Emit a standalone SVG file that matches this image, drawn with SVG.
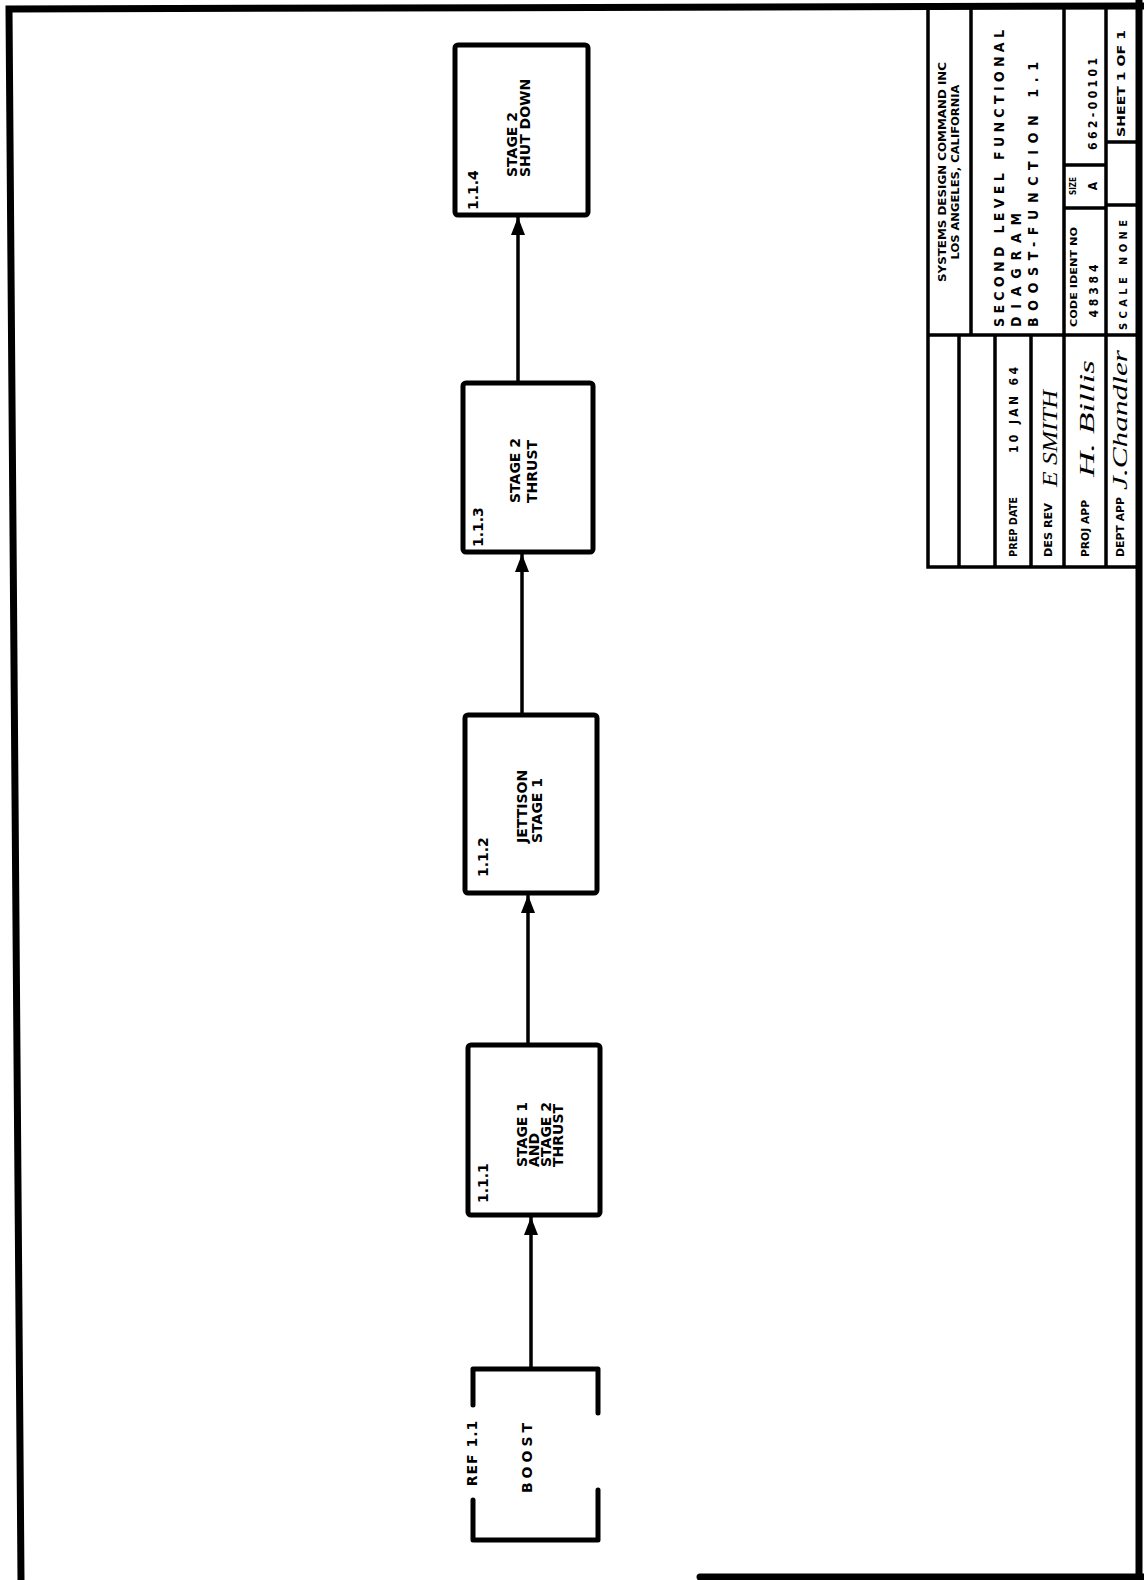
<svg xmlns="http://www.w3.org/2000/svg" width="1144" height="1580" viewBox="0 0 1144 1580">
<style>
.box{fill:#fff;stroke:#000;stroke-width:5;stroke-linejoin:round}
.brk{fill:none;stroke:#000;stroke-width:5;stroke-linecap:round;stroke-linejoin:round}
.con{fill:none;stroke:#000;stroke-width:3.5}
.frame{fill:none;stroke:#000;stroke-width:7;stroke-linecap:round}
.tb{fill:none;stroke:#000;stroke-width:3.5}
.t{font-family:"DejaVu Sans",sans-serif;font-weight:bold;font-size:14px;fill:#000}
.tn{font-family:"DejaVu Sans Condensed","DejaVu Sans",sans-serif;font-weight:bold;fill:#000}
.hw{font-family:"Liberation Serif",serif;font-style:italic;fill:#000}
</style>
<defs>
<marker id="ah" markerUnits="userSpaceOnUse" markerWidth="18" markerHeight="14" refX="18" refY="7" orient="auto">
<path d="M0,0 L18,7 L0,14 z" fill="#000"/>
</marker>
</defs>

<g id="frame">
<path class="frame" d="M21,1580 L9,9 L1144,6"/>
<path class="frame" d="M1139,0 V1580"/>
<path class="frame" d="M700,1577 H1144"/>
</g>

<g id="title-block">
<path class="tb" d="M928,6 V567 H1139"/>
<path class="tb" d="M971,6 V335"/>
<path class="tb" d="M928,335 H1139"/>
<path class="tb" d="M1064,6 V567"/>
<path class="tb" d="M1106,6 V567"/>
<path class="tb" d="M1064,165 H1106 M1064,208 H1106"/>
<path class="tb" d="M1106,142 H1139 M1106,205 H1139"/>
<path class="tb" d="M959,335 V567 M995,335 V567 M1031,335 V567"/>
<text class="tn" font-size="10" text-anchor="middle" transform="translate(946,172) rotate(-90)" textLength="220" lengthAdjust="spacingAndGlyphs">SYSTEMS DESIGN COMMAND INC</text>
<text class="tn" font-size="10" text-anchor="middle" transform="translate(959,172) rotate(-90)" textLength="175" lengthAdjust="spacingAndGlyphs">LOS ANGELES, CALIFORNIA</text>
<text class="tn" font-size="14" transform="translate(1004,327) rotate(-90)" textLength="297" lengthAdjust="spacing">SECOND LEVEL FUNCTIONAL</text>
<text class="tn" font-size="14" transform="translate(1021,327) rotate(-90)" textLength="114" lengthAdjust="spacing">DIAGRAM</text>
<text class="tn" font-size="14" transform="translate(1038,327) rotate(-90)" textLength="265" lengthAdjust="spacing">BOOST-FUNCTION 1.1</text>
<text class="tn" font-size="12" text-anchor="middle" transform="translate(1097,104) rotate(-90)" textLength="92" lengthAdjust="spacing">662-00101</text>
<text class="tn" font-size="8" text-anchor="middle" transform="translate(1076,186) rotate(-90)">SIZE</text>
<text class="tn" font-size="12" text-anchor="middle" transform="translate(1097,186) rotate(-90)">A</text>
<text class="tn" font-size="9" text-anchor="middle" transform="translate(1077,277) rotate(-90)" textLength="100" lengthAdjust="spacingAndGlyphs">CODE IDENT NO</text>
<text class="tn" font-size="12" text-anchor="middle" transform="translate(1098,291) rotate(-90)" textLength="53" lengthAdjust="spacing">48384</text>
<text class="tn" font-size="11" transform="translate(1125,137) rotate(-90)" textLength="107" lengthAdjust="spacingAndGlyphs">SHEET 1 OF 1</text>
<text class="tn" font-size="11" transform="translate(1127,330) rotate(-90)" textLength="110" lengthAdjust="spacing">SCALE NONE</text>
<text class="tn" font-size="10" transform="translate(1017,557) rotate(-90)" textLength="60" lengthAdjust="spacingAndGlyphs">PREP DATE</text>
<text class="tn" font-size="12" transform="translate(1018,453) rotate(-90)" textLength="86" lengthAdjust="spacing">10 JAN 64</text>
<text class="tn" font-size="10" transform="translate(1052,557) rotate(-90)" textLength="54" lengthAdjust="spacingAndGlyphs">DES REV</text>
<text class="hw" font-size="20" transform="translate(1057,487) rotate(-90)" textLength="97" lengthAdjust="spacingAndGlyphs">E SMITH</text>
<text class="tn" font-size="10" transform="translate(1089,557) rotate(-90)" textLength="57" lengthAdjust="spacingAndGlyphs">PROJ APP</text>
<text class="hw" font-size="21" transform="translate(1094,477) rotate(-90)" textLength="117" lengthAdjust="spacingAndGlyphs">H. Billis</text>
<text class="tn" font-size="10" transform="translate(1124,557) rotate(-90)" textLength="60" lengthAdjust="spacingAndGlyphs">DEPT APP</text>
<text class="hw" font-size="22" transform="translate(1127,490) rotate(-90)" textLength="140" lengthAdjust="spacingAndGlyphs">J.Chandler</text>
</g>

<g id="connectors">
<line class="con" x1="531" y1="1368" x2="531" y2="1217" marker-end="url(#ah)"/>
<line class="con" x1="528" y1="1045" x2="528" y2="895" marker-end="url(#ah)"/>
<line class="con" x1="522" y1="715" x2="522" y2="554" marker-end="url(#ah)"/>
<line class="con" x1="518" y1="383" x2="518" y2="217" marker-end="url(#ah)"/>
</g>

<g id="node-boost">
<path class="brk" d="M473,1405 V1369 H598 V1413 M473,1500 V1540 H598 V1490"/>
<text class="t" text-anchor="middle" letter-spacing="1" transform="translate(477,1453) rotate(-90)">REF 1.1</text>
<text class="t" text-anchor="middle" letter-spacing="4" transform="translate(532,1456) rotate(-90)">BOOST</text>
</g>

<g id="node-1-1-1">
<rect class="box" x="468" y="1045" width="132" height="170" rx="3"/>
<text class="t" transform="translate(488,1203) rotate(-90)">1.1.1</text>
<text class="t" transform="translate(527,1167) rotate(-90)">STAGE 1</text>
<text class="t" transform="translate(539,1167) rotate(-90)">AND</text>
<text class="t" transform="translate(551,1167) rotate(-90)">STAGE 2</text>
<text class="t" transform="translate(563,1167) rotate(-90)">THRUST</text>
</g>

<g id="node-1-1-2">
<rect class="box" x="465" y="715" width="132" height="178" rx="3"/>
<text class="t" transform="translate(488,877) rotate(-90)">1.1.2</text>
<text class="t" transform="translate(527,843) rotate(-90)">JETTISON</text>
<text class="t" transform="translate(542,843) rotate(-90)">STAGE 1</text>
</g>

<g id="node-1-1-3">
<rect class="box" x="463" y="383" width="130" height="169" rx="3"/>
<text class="t" transform="translate(483,547) rotate(-90)">1.1.3</text>
<text class="t" transform="translate(520,503) rotate(-90)">STAGE 2</text>
<text class="t" transform="translate(537,503) rotate(-90)">THRUST</text>
</g>

<g id="node-1-1-4">
<rect class="box" x="455" y="45" width="133" height="170" rx="3"/>
<text class="t" transform="translate(478,210) rotate(-90)">1.1.4</text>
<text class="t" transform="translate(517,177) rotate(-90)">STAGE 2</text>
<text class="t" transform="translate(530,177) rotate(-90)">SHUT DOWN</text>
</g>
</svg>
